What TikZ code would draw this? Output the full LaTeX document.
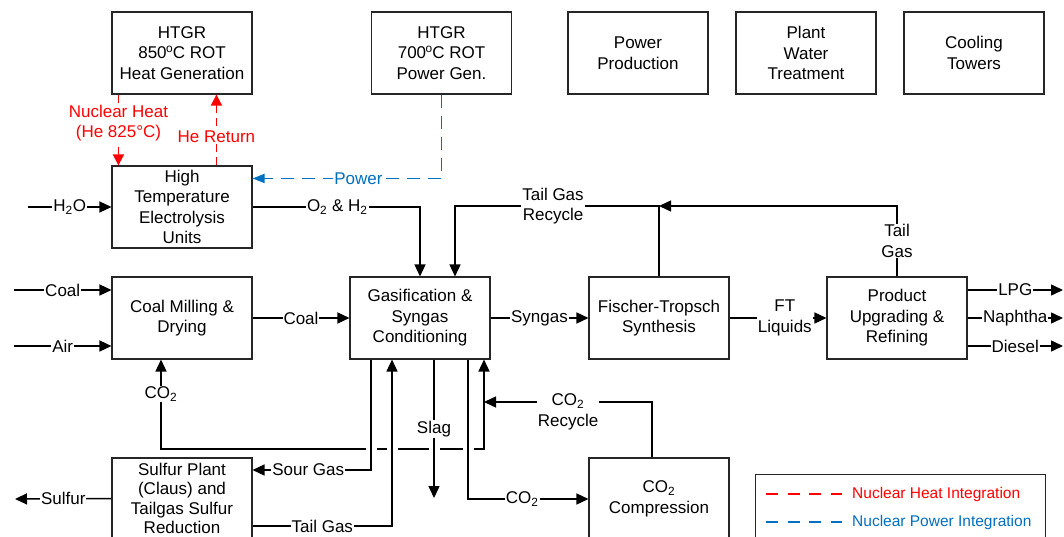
\documentclass[tikz,border=0pt]{standalone}
\usepackage{fontspec}
\setmainfont{Liberation Sans}
\usetikzlibrary{arrows.meta,calc}
\definecolor{nred}{RGB}{255,0,0}
\definecolor{nblue}{RGB}{0,112,192}
\newcommand{\degsup}{\kern-0.5pt\textsuperscript{o}\kern-0.5pt}
\begin{document}
\begin{tikzpicture}[x=1pt,y=-1pt,
  font=\fontsize{17}{20.5}\selectfont,
  box/.style={draw=black!85, line width=1.1pt, minimum width=140pt, minimum height=82pt, inner sep=0pt, align=center, fill=white},
  flow/.style={line width=1.5pt, -{Triangle[length=12pt,width=11pt]}},
  plain/.style={line width=1.5pt},
  both/.style={line width=1.5pt, {Triangle[length=12pt,width=11pt]}-{Triangle[length=12pt,width=11pt]}},
  lbl/.style={fill=white, inner sep=1pt, align=center},
  heat/.style={draw=nred, line width=1.6pt, dash pattern=on 8pt off 5pt, -{Triangle[length=11pt,width=11pt]}},
  pow/.style={draw=nblue, line width=1.6pt, dash pattern=on 13pt off 8pt, -{Triangle[length=12pt,width=9pt]}},
  legfont/.style={font=\fontsize{15.5}{18}\selectfont},
]
\useasboundingbox (0,0) rectangle (1064,537);

% top row
\node[box] (h850) at (182,53) {HTGR\\850\degsup C ROT\\Heat Generation};
\node[box] (h700) at (441.5,53) {HTGR\\700\degsup C ROT\\Power Gen.};
\node[box] (pp) at (638,53) {Power\\Production};
\node[box] (pwt) at (806,53) {Plant\\Water\\Treatment};
\node[box] (ct) at (974,53) {Cooling\\Towers};

% main units
\node[box] (hte) at (182,207) {High\\Temperature\\Electrolysis\\Units};
\node[box] (cmd) at (182,318) {Coal Milling \&\\Drying};
\node[box] (gas) at (420,318) {Gasification \&\\Syngas\\Conditioning};
\node[box] (ft) at (659,318) {Fischer-Tropsch\\Synthesis};
\node[box] (pur) at (897,318) {Product\\Upgrading \&\\Refining};
\node[box, minimum height=81pt, font=\fontsize{17}{19.3}\selectfont] (sp) at (182,498.5) {Sulfur Plant\\(Claus) and\\Tailgas Sulfur\\Reduction};
\node[box] (co2c) at (659,499) {CO\textsubscript{2}\\Compression};

% nuclear heat (red)
\draw[heat] ($(h850.south west)+(7,0)$) -- ($(hte.north west)+(7,0)$)
  node[lbl, text=nred, pos=0.4] (nhl) {Nuclear Heat\\(He 825°C)};
\draw[heat] ($(hte.north west)+(105,0)$) -- ($(h850.south west)+(105,0)$)
  node[lbl, text=nred, pos=0.41] (hrl) {He Return};

% power (blue)
\draw[pow] (h700.south) |- ($(hte.north east)+(0,13)$)
  node[lbl, text=nblue, pos=0.72] (pwl) {Power};

% H2O
\coordinate (h2oin) at (28,207);
\draw[flow] (h2oin) -- (hte.west) node[lbl, midway] {H\textsubscript{2}O};

% O2 & H2
\draw[flow] (hte.east) -| (gas.north) node[lbl, pos=0.253] {O\textsubscript{2} \& H\textsubscript{2}};

% tail gas recycle
\coordinate (tgR) at (897,206);
\coordinate (tgM) at (659,206);
\coordinate (tgL) at (455,206);
\draw[flow] (pur.north) -- (tgR) -- (tgM);
\draw[flow] (ft.north) -- (tgM) -- (tgL) -- (gas.north -| tgL);
\node[lbl] (tgrl) at (553,206) {Tail Gas\\Recycle};
\node[lbl] (tgl) at (897,241) {Tail\\Gas};

% coal milling inputs
\coordinate (coalin) at (14,290);
\coordinate (airin) at (14,346);
\draw[flow] (coalin) -- (coalin -| cmd.west) node[lbl, midway] {Coal};
\draw[flow] (airin) -- (airin -| cmd.west) node[lbl, midway] {Air};

% main line
\draw[flow] (cmd.east) -- (gas.west) node[lbl, midway] {Coal};
\draw[flow] (gas.east) -- (ft.west) node[lbl, midway] {Syngas};
\draw[flow] (ft.east) -- (pur.west) node[lbl, pos=0.57] {FT\\Liquids};

% products
\coordinate (lpg) at (1063,290);
\coordinate (nap) at (1063,318);
\coordinate (die) at (1063,346);
\draw[flow] (lpg -| pur.east) -- (lpg) node[lbl, midway] {LPG};
\draw[flow] (nap -| pur.east) -- (nap) node[lbl, midway] {Naphtha};
\draw[flow] (die -| pur.east) -- (die) node[lbl, midway] {Diesel};

% CO2 distribution to gasifier and coal milling
\coordinate (rj) at (484,449);
\coordinate (cj) at (161,449);
\draw[both] (gas.south -| rj) -- (rj) -- (cj) -- (cmd.south -| cj);
\node[lbl] (co2l) at (161,394) {CO\textsubscript{2}};
\foreach \xx in {371,392,434,468} \draw[white, line width=11pt] (\xx,443) -- (\xx,455);

% sour gas
\coordinate (sg) at (371,470);
\draw[flow] (gas.south -| sg) -- (sg) -- (sg -| sp.east) node[lbl, pos=0.53] {Sour Gas};
% tail gas
\coordinate (tg) at (392,526);
\draw[flow] (tg -| sp.east) -- (tg) node[lbl, pos=0.5] {Tail Gas} -- (gas.south -| tg);
% slag
\coordinate (slag) at (434,498);
\draw[flow] (gas.south -| slag) -- (slag);
\node[lbl] (slagl) at (434,429) {Slag};
% CO2 to compression
\coordinate (co2b) at (468,499);
\draw[flow] (gas.south -| co2b) -- (co2b) -- (co2b -| co2c.west) node[lbl, pos=0.45] {CO\textsubscript{2}};
% CO2 recycle
\coordinate (rcy) at (652,402);
\draw[flow] (co2c.north -| rcy) -- (rcy) -- (rcy -| rj);
\node[lbl] (rcyl) at (568,412) {CO\textsubscript{2}\\Recycle};

% sulfur out
\coordinate (sul) at (15,499);
\draw[flow] (sp.west) -- (sul) node[lbl, midway] {Sulfur};

% legend
\node[draw=black!85, line width=1.1pt, fill=white, minimum width=290pt, minimum height=70pt, inner sep=0pt, anchor=north west] (leg) at (755,474) {};
\coordinate (lr1) at (766,494);
\coordinate (lr2) at (842,494);
\coordinate (lb1) at (766,522);
\coordinate (lb2) at (842,522);
\draw[nred, line width=1.6pt, dash pattern=on 12pt off 9.5pt] (lr1) -- (lr2);
\draw[nblue, line width=1.6pt, dash pattern=on 12pt off 9.5pt] (lb1) -- (lb2);
\node[legfont, anchor=west, text=nred, inner sep=0pt] (lt1) at (852,494) {Nuclear Heat Integration};
\node[legfont, anchor=west, text=nblue, inner sep=0pt] (lt2) at (852,522) {Nuclear Power Integration};
\end{tikzpicture}
\end{document}
